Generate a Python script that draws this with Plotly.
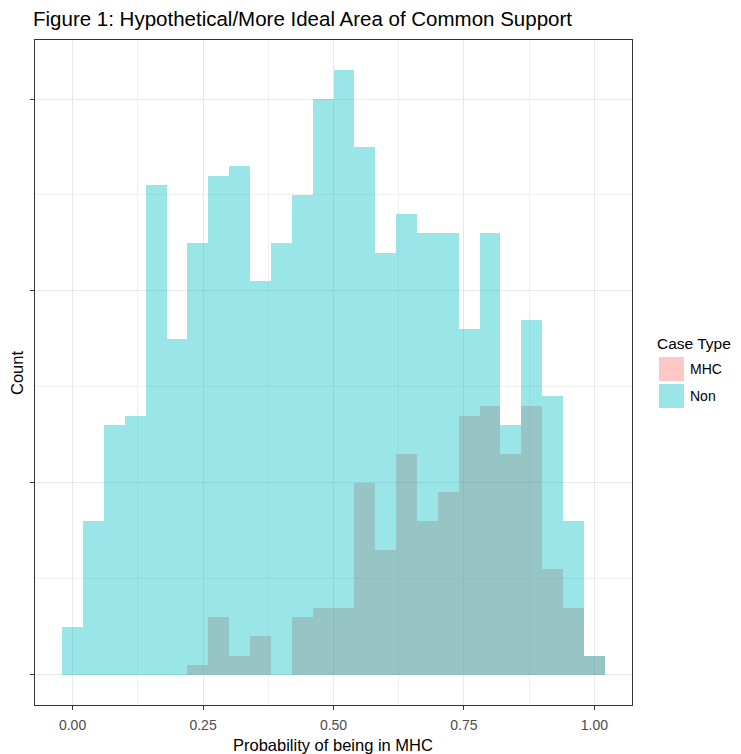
import plotly.graph_objects as go

# Bin centers (binwidth 0.04)
bin_centers = [round(0.04 * i, 2) for i in range(26)]
bin_width = 0.04

# Counts
non_counts = [5, 16, 26, 27, 51, 35, 45, 52, 53, 41, 45, 50, 60, 63,
              55, 44, 48, 46, 46, 36, 46, 26, 37, 29, 16, 2]
mhc_counts = [0, 0, 0, 0, 0, 0, 1, 6, 2, 4, 0, 6, 7, 7,
              20, 13, 23, 16, 19, 27, 28, 23, 28, 11, 7, 2]

series_names = ["MHC", "Non"]
series_colors = ["#F8766D", "#00BFC4"]
fill_alpha = 0.4

x_ticks = [0.0, 0.25, 0.5, 0.75, 1.0]
x_tick_labels = ["0.00", "0.25", "0.50", "0.75", "1.00"]
y_ticks = [0, 20, 40, 60]

title_text = "Figure 1: Hypothetical/More Ideal Area of Common Support"
x_title = "Probability of being in MHC"
y_title = "Count"
legend_title = "Case Type"


def rgba(hexc, a):
    hexc = hexc.lstrip("#")
    r, g, b = int(hexc[0:2], 16), int(hexc[2:4], 16), int(hexc[4:6], 16)
    return f"rgba({r},{g},{b},{a})"


fig = go.Figure()
for name, color, counts in zip(series_names, series_colors, [mhc_counts, non_counts]):
    fig.add_trace(go.Bar(
        x=bin_centers, y=counts, width=bin_width, name=name,
        marker=dict(color=rgba(color, fill_alpha), line=dict(width=0)),
        showlegend=False,
    ))

font_family = "Liberation Sans, Arial, sans-serif"

# page body has an 8px margin, so the figure is drawn 8px smaller
OFF = 8
FIG_W, FIG_H = 733, 746
PL, PT, PW, PH = 35, 40, 597, 665  # plot area in page pixels


def px_x(v):
    return (v - PL) / PW


def px_y(v):
    return 1 - (v - PT) / PH


fig.update_layout(
    width=FIG_W, height=FIG_H,
    margin=dict(l=PL - OFF, r=FIG_W - (PL - OFF) - PW, t=PT - OFF,
                b=FIG_H - (PT - OFF) - PH, autoexpand=False),
    barmode="overlay", bargap=0,
    plot_bgcolor="white", paper_bgcolor="white",
    font=dict(family=font_family, color="black"),
    title=dict(text=title_text, x=(33 - OFF) / FIG_W, xanchor="left", xref="container",
               y=1 - (19 - OFF) / FIG_H, yanchor="middle", yref="container",
               font=dict(size=20.5, color="black", family=font_family)),
    xaxis=dict(
        range=[-0.072, 1.072], tickvals=x_ticks, ticktext=x_tick_labels,
        showgrid=True, gridcolor="#E8E8E8", gridwidth=1.1,
        minor=dict(dtick=0.125, tick0=0, showgrid=True, gridcolor="#F0F0F0", gridwidth=0.7,
                   ticks=""),
        showline=True, linecolor="#333333", linewidth=1, mirror=True,
        ticks="outside", ticklen=4, tickcolor="#333333", tickwidth=1,
        tickfont=dict(size=14, color="#4D4D4D"), ticklabelstandoff=3,
        zeroline=False,
    ),
    yaxis=dict(
        range=[-3.15, 66.15], tickvals=y_ticks, showticklabels=False,
        showgrid=True, gridcolor="#E8E8E8", gridwidth=1.1,
        minor=dict(dtick=10, tick0=0, showgrid=True, gridcolor="#F0F0F0", gridwidth=0.7,
                   ticks=""),
        showline=True, linecolor="#333333", linewidth=1, mirror=True,
        ticks="outside", ticklen=4, tickcolor="#333333", tickwidth=1,
        zeroline=False,
    ),
)

# Axis titles
fig.add_annotation(text=x_title, xref="paper", yref="paper",
                   x=px_x(333), y=px_y(745), xanchor="center", yanchor="middle",
                   showarrow=False, font=dict(size=16.5, color="black"))
fig.add_annotation(text=y_title, xref="paper", yref="paper",
                   x=px_x(17), y=px_y(373), xanchor="center", yanchor="middle",
                   textangle=-90, showarrow=False, font=dict(size=16.5, color="black"))

# Custom legend (ggplot-style keys)
fig.add_annotation(text=legend_title, xref="paper", yref="paper",
                   x=px_x(655), y=px_y(344), xanchor="left", yanchor="middle",
                   showarrow=False, font=dict(size=15.5, color="black"))
key_top = 357
for i, (name, color) in enumerate(zip(series_names, series_colors)):
    y0 = key_top + i * 27
    fig.add_shape(type="rect", xref="paper", yref="paper",
                  x0=px_x(659), x1=px_x(684), y0=px_y(y0), y1=px_y(y0 + 24),
                  fillcolor=rgba(color, fill_alpha), line=dict(width=0))
    fig.add_annotation(text=name, xref="paper", yref="paper",
                       x=px_x(688), y=px_y(y0 + 12.5), xanchor="left", yanchor="middle",
                       showarrow=False, font=dict(size=14, color="black"))

fig.write_html("out.html")
